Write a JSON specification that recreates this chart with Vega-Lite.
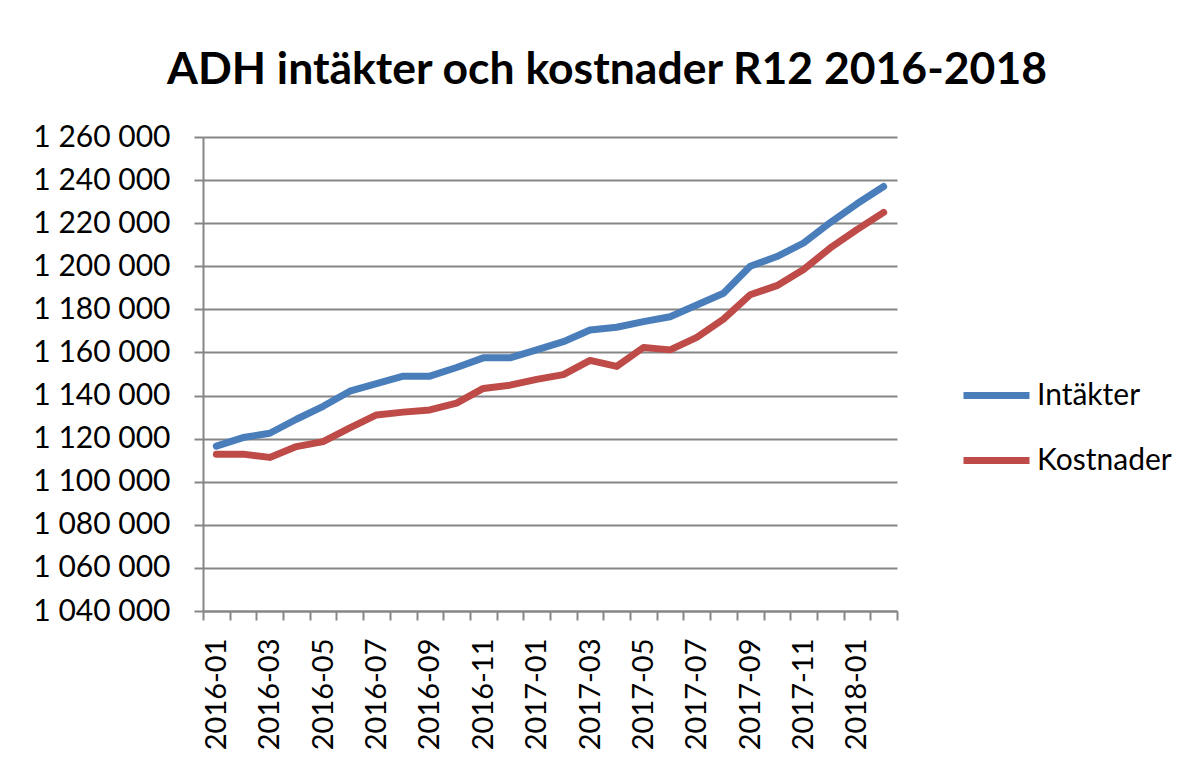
{
  "$schema": "https://vega.github.io/schema/vega-lite/v6.json",
  "autosize": "none",
  "width": 694,
  "height": 474,
  "padding": {"left": 203, "top": 137, "right": 302, "bottom": 152},
  "background": "white",
  "title": {
    "text": "ADH intäkter och kostnader R12 2016-2018",
    "font": "Lato",
    "fontWeight": "bold",
    "fontSize": 44.5,
    "color": "black",
    "anchor": "middle",
    "frame": "group",
    "dx": 57,
    "offset": 29
  },
  "data": {
    "values": [
      {"m": "2016-01", "s": "Intäkter", "v": 1116500},
      {"m": "2016-02", "s": "Intäkter", "v": 1120500},
      {"m": "2016-03", "s": "Intäkter", "v": 1122500},
      {"m": "2016-04", "s": "Intäkter", "v": 1129000},
      {"m": "2016-05", "s": "Intäkter", "v": 1135000},
      {"m": "2016-06", "s": "Intäkter", "v": 1142000},
      {"m": "2016-07", "s": "Intäkter", "v": 1145500},
      {"m": "2016-08", "s": "Intäkter", "v": 1149000},
      {"m": "2016-09", "s": "Intäkter", "v": 1149000},
      {"m": "2016-10", "s": "Intäkter", "v": 1153000},
      {"m": "2016-11", "s": "Intäkter", "v": 1157500},
      {"m": "2016-12", "s": "Intäkter", "v": 1157500},
      {"m": "2017-01", "s": "Intäkter", "v": 1161200},
      {"m": "2017-02", "s": "Intäkter", "v": 1165000},
      {"m": "2017-03", "s": "Intäkter", "v": 1170400},
      {"m": "2017-04", "s": "Intäkter", "v": 1171700},
      {"m": "2017-05", "s": "Intäkter", "v": 1174300},
      {"m": "2017-06", "s": "Intäkter", "v": 1176600},
      {"m": "2017-07", "s": "Intäkter", "v": 1182000},
      {"m": "2017-08", "s": "Intäkter", "v": 1187500},
      {"m": "2017-09", "s": "Intäkter", "v": 1200000},
      {"m": "2017-10", "s": "Intäkter", "v": 1204500},
      {"m": "2017-11", "s": "Intäkter", "v": 1210800},
      {"m": "2017-12", "s": "Intäkter", "v": 1220300},
      {"m": "2018-01", "s": "Intäkter", "v": 1229000},
      {"m": "2018-02", "s": "Intäkter", "v": 1237000},
      {"m": "2016-01", "s": "Kostnader", "v": 1112800},
      {"m": "2016-02", "s": "Kostnader", "v": 1112800},
      {"m": "2016-03", "s": "Kostnader", "v": 1111300},
      {"m": "2016-04", "s": "Kostnader", "v": 1116300},
      {"m": "2016-05", "s": "Kostnader", "v": 1118600},
      {"m": "2016-06", "s": "Kostnader", "v": 1125000},
      {"m": "2016-07", "s": "Kostnader", "v": 1131000},
      {"m": "2016-08", "s": "Kostnader", "v": 1132300},
      {"m": "2016-09", "s": "Kostnader", "v": 1133300},
      {"m": "2016-10", "s": "Kostnader", "v": 1136500},
      {"m": "2016-11", "s": "Kostnader", "v": 1143300},
      {"m": "2016-12", "s": "Kostnader", "v": 1144800},
      {"m": "2017-01", "s": "Kostnader", "v": 1147500},
      {"m": "2017-02", "s": "Kostnader", "v": 1149700},
      {"m": "2017-03", "s": "Kostnader", "v": 1156300},
      {"m": "2017-04", "s": "Kostnader", "v": 1153500},
      {"m": "2017-05", "s": "Kostnader", "v": 1162300},
      {"m": "2017-06", "s": "Kostnader", "v": 1161200},
      {"m": "2017-07", "s": "Kostnader", "v": 1167000},
      {"m": "2017-08", "s": "Kostnader", "v": 1175500},
      {"m": "2017-09", "s": "Kostnader", "v": 1186800},
      {"m": "2017-10", "s": "Kostnader", "v": 1191000},
      {"m": "2017-11", "s": "Kostnader", "v": 1198500},
      {"m": "2017-12", "s": "Kostnader", "v": 1208500},
      {"m": "2018-01", "s": "Kostnader", "v": 1217000},
      {"m": "2018-02", "s": "Kostnader", "v": 1225000}
    ]
  },
  "mark": {"type": "line", "strokeWidth": 7, "strokeCap": "round", "strokeJoin": "round"},
  "encoding": {
    "x": {
      "field": "m",
      "type": "ordinal",
      "scale": {"type": "band", "paddingInner": 0, "paddingOuter": 0},
      "axis": {
        "title": null,
        "labelExpr": "parseInt(substring(datum.value, 5, 7)) % 2 == 1 ? datum.value : ''",
        "labelOverlap": false,
        "labelAngle": -90,
        "labelAlign": "right",
        "labelBaseline": "middle",
        "labelFont": "Lato",
        "labelFontSize": 29,
        "labelColor": "black",
        "labelPadding": 18,
        "tickBand": "extent",
        "tickSize": 9,
        "tickWidth": 2,
        "tickColor": "#868686",
        "domainColor": "#868686",
        "domainWidth": 2,
        "grid": false
      }
    },
    "y": {
      "field": "v",
      "type": "quantitative",
      "scale": {"domain": [1040000, 1260000], "nice": false, "zero": false},
      "axis": {
        "title": null,
        "values": [1040000, 1060000, 1080000, 1100000, 1120000, 1140000, 1160000, 1180000, 1200000, 1220000, 1240000, 1260000],
        "labelExpr": "replace(format(datum.value, ','), regexp(',', 'g'), ' ')",
        "labelFont": "Lato",
        "labelFontSize": 30,
        "labelColor": "black",
        "labelPadding": 24,
        "tickSize": 9,
        "tickWidth": 2,
        "tickColor": "#868686",
        "domainColor": "#868686",
        "domainWidth": 2,
        "grid": true,
        "gridColor": "#868686",
        "gridWidth": 2
      }
    },
    "color": {
      "field": "s",
      "type": "nominal",
      "scale": {"domain": ["Intäkter", "Kostnader"], "range": ["#4a7ebb", "#be4b48"]},
      "legend": {
        "title": null,
        "orient": "none",
        "legendX": 757,
        "legendY": 222,
        "symbolType": "stroke",
        "symbolSize": 4356,
        "symbolStrokeWidth": 7,
        "labelFont": "Lato",
        "labelFontSize": 30,
        "labelColor": "black",
        "labelOffset": 4,
        "rowPadding": 13
      }
    }
  },
  "config": {
    "view": {"stroke": null}
  }
}
